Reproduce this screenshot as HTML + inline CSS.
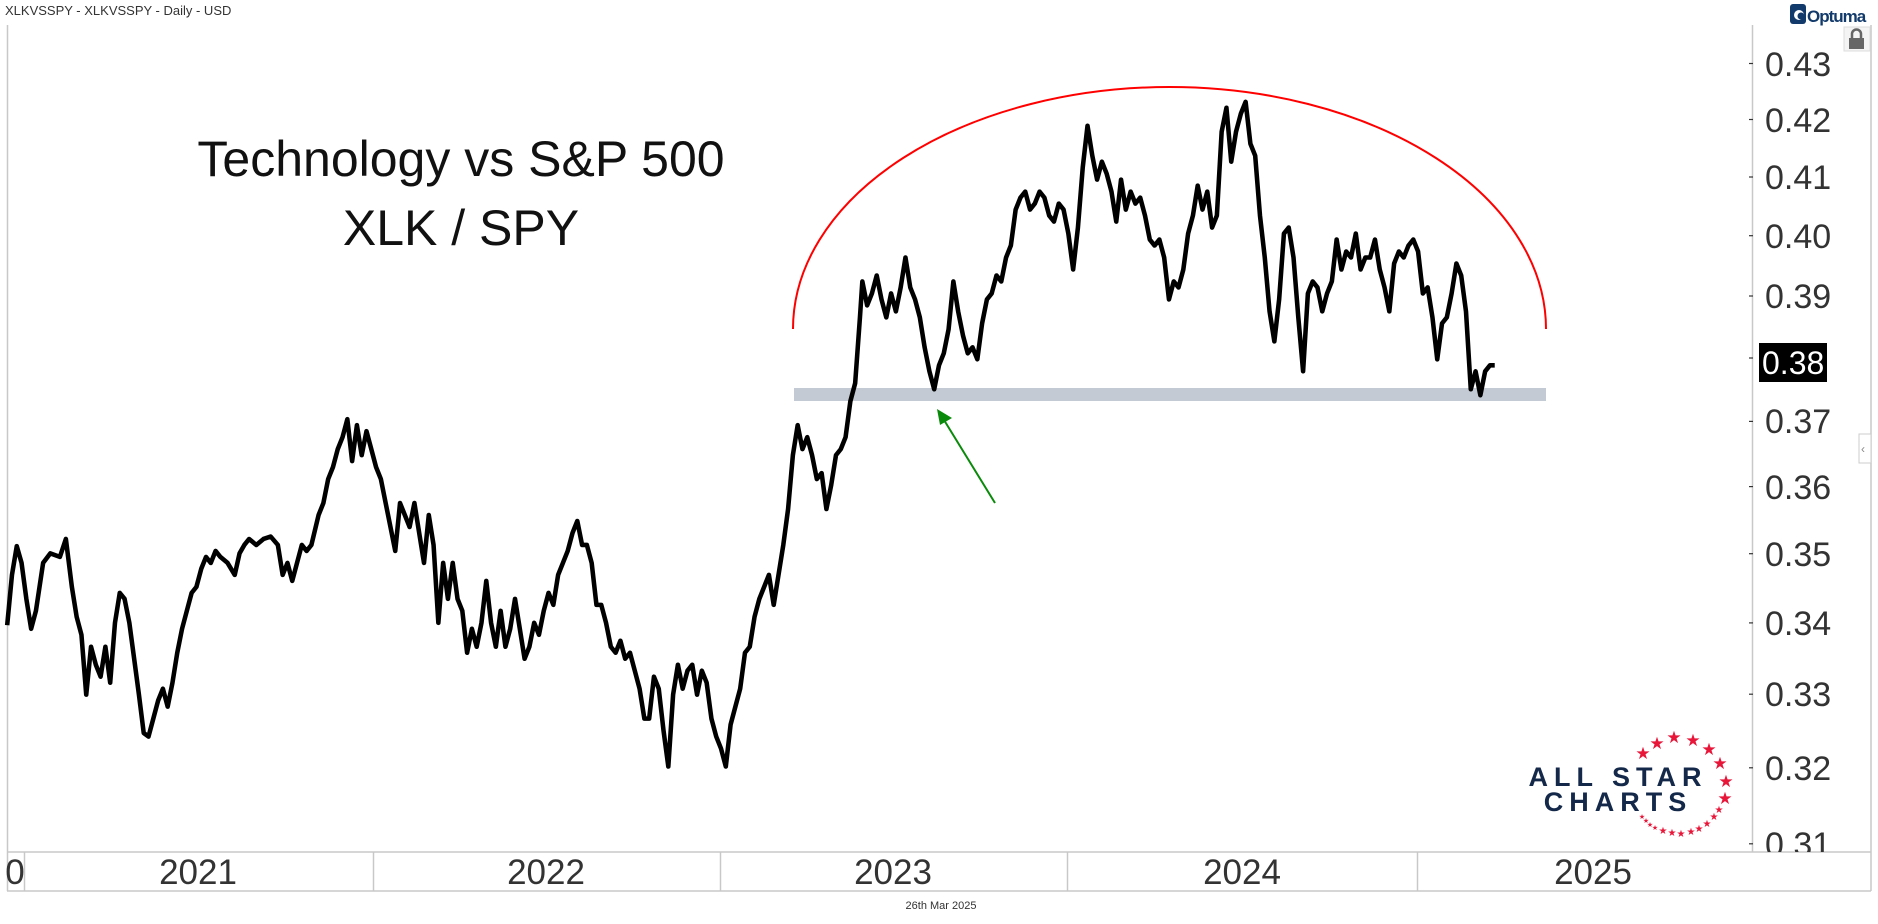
<!DOCTYPE html>
<html><head><meta charset="utf-8"><style>
html,body{margin:0;padding:0;background:#fff;}
svg{display:block;font-family:"Liberation Sans",sans-serif;}
</style></head><body>
<svg width="1878" height="924" viewBox="0 0 1878 924" xmlns="http://www.w3.org/2000/svg">
<rect width="1878" height="924" fill="#fff"/>
<text x="5" y="15" font-size="13" fill="#333">XLKVSSPY - XLKVSSPY - Daily - USD</text>
<line x1="7.5" y1="25" x2="7.5" y2="891" stroke="#c8c8c8" stroke-width="1.5"/>
<line x1="1752.5" y1="25" x2="1752.5" y2="852" stroke="#c8c8c8" stroke-width="1.5"/>
<line x1="1871" y1="25" x2="1871" y2="891" stroke="#c8c8c8" stroke-width="1.5"/>
<line x1="7" y1="852" x2="1871" y2="852" stroke="#c8c8c8" stroke-width="1.5"/>
<line x1="7" y1="891" x2="1871" y2="891" stroke="#c8c8c8" stroke-width="1.5"/>
<g stroke="#c8c8c8" stroke-width="1.5">
<line x1="24.5" y1="852" x2="24.5" y2="891"/><line x1="373.5" y1="852" x2="373.5" y2="891"/>
<line x1="720.5" y1="852" x2="720.5" y2="891"/><line x1="1067.5" y1="852" x2="1067.5" y2="891"/>
<line x1="1417.5" y1="852" x2="1417.5" y2="891"/>
</g>
<g font-size="35" fill="#333" text-anchor="middle">
<text x="15" y="884">0</text><text x="198" y="884">2021</text><text x="546" y="884">2022</text>
<text x="893" y="884">2023</text><text x="1242" y="884">2024</text><text x="1593" y="884">2025</text>
</g>
<text x="941" y="909" font-size="11" fill="#333" text-anchor="middle">26th Mar 2025</text>
<defs><clipPath id="ax"><rect x="1740" y="25" width="131" height="827"/></clipPath></defs>
<g clip-path="url(#ax)" font-size="34" fill="#333">
<g stroke="#333" stroke-width="1.2">
<line x1="1749" y1="63.5" x2="1753" y2="63.5"/><line x1="1749" y1="119.5" x2="1753" y2="119.5"/>
<line x1="1749" y1="177" x2="1753" y2="177"/><line x1="1749" y1="235.7" x2="1753" y2="235.7"/>
<line x1="1749" y1="296" x2="1753" y2="296"/><line x1="1749" y1="358" x2="1753" y2="358"/>
<line x1="1749" y1="421.4" x2="1753" y2="421.4"/><line x1="1749" y1="486.6" x2="1753" y2="486.6"/>
<line x1="1749" y1="553.7" x2="1753" y2="553.7"/><line x1="1749" y1="622.9" x2="1753" y2="622.9"/>
<line x1="1749" y1="694.2" x2="1753" y2="694.2"/><line x1="1749" y1="767.8" x2="1753" y2="767.8"/>
<line x1="1749" y1="843.8" x2="1753" y2="843.8"/>
</g>
<text x="1765" y="76">0.43</text><text x="1765" y="132">0.42</text><text x="1765" y="189">0.41</text>
<text x="1765" y="248">0.40</text><text x="1765" y="308">0.39</text>
<text x="1765" y="433">0.37</text><text x="1765" y="499">0.36</text><text x="1765" y="566">0.35</text>
<text x="1765" y="635">0.34</text><text x="1765" y="706">0.33</text><text x="1765" y="780">0.32</text>
<text x="1765" y="856">0.31</text>
</g>
<rect x="1759" y="343" width="68" height="39" fill="#000"/>
<text x="1762" y="374" font-size="32" fill="#fff">0.38</text>
<rect x="1844" y="27" width="26" height="24" fill="#f4f4f4" stroke="#ddd"/>
<rect x="1849" y="38" width="15" height="11" fill="#666"/>
<path d="M1852 38v-4a4.5 4.5 0 0 1 9 0v4" fill="none" stroke="#666" stroke-width="2.5"/>
<rect x="1859" y="434" width="12" height="29" fill="#fff" stroke="#ccc"/>
<text x="1861" y="453" font-size="12" fill="#888">‹</text>
<rect x="1790" y="4" width="16" height="20" rx="3" fill="#123a6b"/>
<circle cx="1799" cy="15" r="5" fill="#fff"/><circle cx="1801" cy="16" r="3.5" fill="#123a6b"/>
<text x="1807" y="22" font-size="17" font-weight="bold" fill="#123a6b" letter-spacing="-1">Optuma</text>
<text x="461" y="176" font-size="50" fill="#111" text-anchor="middle">Technology vs S&amp;P 500</text>
<text x="461" y="245" font-size="50" fill="#111" text-anchor="middle">XLK / SPY</text>
<rect x="794" y="388" width="752" height="13" fill="#c3cad3"/>
<path d="M793 329 A376.5 242 0 0 1 1546 329" fill="none" stroke="#f00" stroke-width="2"/>
<line x1="995" y1="503" x2="944" y2="420" stroke="#0a8a0a" stroke-width="2"/>
<polygon points="937,409 952,418 940,425" fill="#0a8a0a"/>
<g transform="scale(1.1977)">
<polyline fill="none" stroke="#000" stroke-width="3.8" stroke-linejoin="round" points="6,522 10,480 14,456 18,470 22,500 26,525 30,510 36,470 42,462 50,465 55,450 60,490 64,515 68,530 72,580 76,540 80,555 84,565 88,540 92,570 96,520 100,495 104,500 108,520 112,550 116,580 120,612 124,615 128,600 132,585 136,575 140,590 144,570 148,545 152,525 156,510 160,495 164,490 168,475 172,465 176,470 180,460 184,465 190,470 196,480 200,462 204,455 208,450 214,455 220,450 226,448 232,455 236,480 240,470 244,485 248,470 252,455 256,460 260,455 266,430 270,420 274,400 278,390 282,375 286,365 290,350 294,385 298,355 302,380 306,360 310,375 314,390 318,400 322,420 326,440 330,460 334,420 338,430 342,440 346,420 350,445 354,470 358,430 362,455 366,520 370,470 374,500 378,470 382,500 386,510 390,545 394,525 398,540 402,520 406,485 410,520 414,540 418,510 422,540 426,525 430,500 434,525 438,550 442,540 446,520 450,530 454,510 458,495 462,505 466,480 470,470 474,460 478,445 482,435 486,455 490,455 494,470 498,505 502,505 506,520 510,540 514,545 518,535 522,550 526,545 530,560 534,575 538,600 542,600 546,565 550,575 554,610 558,640 562,580 566,555 570,575 574,560 578,555 582,580 586,560 590,570 594,600 598,615 602,625 606,640 610,605 614,590 618,575 622,545 626,540 630,515 634,500 638,490 642,480 646,505 650,480 654,455 658,425 662,380 666,355 670,375 674,365 678,380 682,400 686,395 690,425 694,405 698,380 702,375 706,365 710,335 714,320 718,265 720,235 724,255 728,245 732,230 736,250 740,265 744,245 748,260 752,240 756,215 760,240 764,250 768,265 772,290 776,310 780,325 784,305 788,295 792,275 796,235 800,260 804,280 808,295 812,290 816,300 820,270 824,250 828,245 832,230 836,235 840,215 844,205 848,175 852,165 856,160 860,175 864,170 868,160 872,165 876,180 880,185 884,170 888,175 892,195 896,225 900,190 904,140 908,105 912,130 916,150 920,135 924,145 928,160 932,185 936,150 940,175 944,160 948,170 952,165 956,180 960,200 964,205 968,200 972,215 976,250 980,235 984,240 988,225 992,195 996,180 1000,155 1004,175 1008,160 1012,190 1016,180 1020,110 1024,90 1028,135 1032,110 1036,95 1040,85 1044,120 1048,130 1052,180 1056,215 1060,260 1064,285 1068,250 1072,195 1076,190 1080,215 1084,265 1088,310 1092,245 1096,235 1100,240 1104,260 1108,245 1112,235 1116,200 1120,225 1124,210 1128,215 1132,195 1136,225 1140,215 1144,215 1148,200 1152,225 1156,240 1160,260 1164,220 1168,210 1172,215 1176,205 1180,200 1184,210 1188,245 1192,240 1196,265 1200,300 1204,270 1208,265 1212,245 1216,220 1220,230 1224,260 1228,325 1232,310 1236,330 1240,310 1244,305 1248,305"/>
</g>
<g font-weight="bold" fill="#14294a" text-anchor="middle" font-size="27">
<text x="1618" y="786" letter-spacing="6">ALL STAR</text>
<text x="1618" y="811" letter-spacing="6">CHARTS</text>
</g>
<g fill="#e8173a" text-anchor="middle">
<g font-size="17">
<text x="1643" y="759">★</text><text x="1657" y="749">★</text><text x="1674" y="743">★</text>
<text x="1693" y="746">★</text><text x="1709" y="755">★</text><text x="1720" y="769">★</text>
<text x="1726" y="787">★</text><text x="1725" y="804">★</text>
</g>
<g font-size="10">
<text x="1719" y="813">★</text><text x="1714" y="820">★</text><text x="1707" y="827">★</text>
<text x="1699" y="832">★</text><text x="1691" y="835">★</text><text x="1681" y="837">★</text>
<text x="1672" y="836">★</text><text x="1663" y="834">★</text>
</g>
<g font-size="7">
<text x="1655" y="830">★</text><text x="1650" y="827">★</text><text x="1646" y="823">★</text><text x="1642" y="819">★</text>
</g>
</g>
</svg>
</body></html>
